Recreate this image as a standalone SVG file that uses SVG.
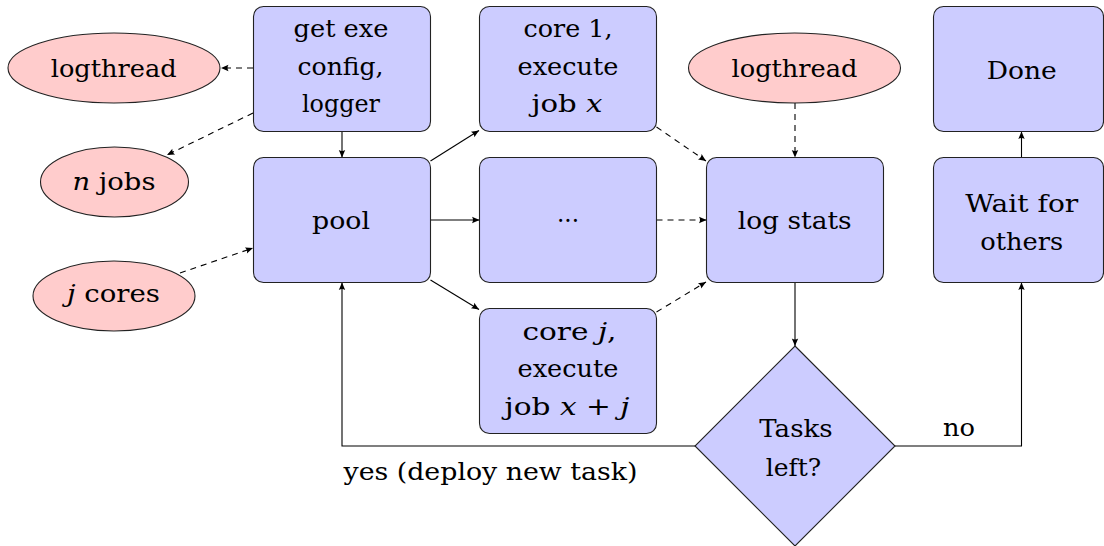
<svg xmlns="http://www.w3.org/2000/svg" width="1104" height="546" viewBox="0 0 1104 546">
<defs>
<marker id="ah" viewBox="-8 -4 9 8" refX="0" refY="0" markerWidth="9" markerHeight="8" markerUnits="userSpaceOnUse" orient="auto">
<path d="M0,0 L-7.5,-3.2 Q-5.5,0 -7.5,3.2 Z" fill="#000"/>
</marker>
</defs>
<style>
.box{fill:#ccccff;stroke:#222;stroke-width:1.1}
.ell{fill:#ffcccc;stroke:#222;stroke-width:1.1}
text{font-family:'DejaVu Serif','Liberation Serif',serif;font-size:25px;fill:#000;text-anchor:middle}
.i{font-style:italic}
.c{fill:none;stroke:#000;stroke-width:1.1;marker-end:url(#ah)}
.d{stroke-dasharray:6 5}
</style>
<g id="connectors">
<path class="c d" d="M253,68 L221,68"/>
<path class="c d" d="M253,113 L167,155"/>
<path class="c d" d="M180,273 L253,248"/>
<path class="c" d="M342,131.5 L342,157.5"/>
<path class="c" d="M430.5,161 L479,130.5"/>
<path class="c" d="M430.5,220 L479.5,220"/>
<path class="c" d="M430.5,280 L479,309.5"/>
<path class="c d" d="M656.5,127 L706,161"/>
<path class="c d" d="M656.5,220 L706.5,220"/>
<path class="c d" d="M656.5,312 L706,282"/>
<path class="c d" d="M795,103 L795,157.5"/>
<path class="c" d="M795,282.5 L795,346"/>
<path class="c" d="M695,446 H342 V282.5"/>
<path class="c" d="M895,446 H1021.5 V282.5"/>
<path class="c" d="M1021.5,157.5 V131.5"/>
<text x="490.5" y="480" textLength="294" lengthAdjust="spacingAndGlyphs">yes (deploy new task)</text>
<text x="959" y="436" textLength="32" lengthAdjust="spacingAndGlyphs">no</text>
</g>
<g id="logthread1">
<ellipse class="ell" cx="114" cy="68" rx="106" ry="35"/>
<text x="113.7" y="77" textLength="126" lengthAdjust="spacingAndGlyphs">logthread</text>
</g>
<g id="njobs">
<ellipse class="ell" cx="114.5" cy="182" rx="74" ry="35"/>
<text x="114" y="190" textLength="83" lengthAdjust="spacingAndGlyphs"><tspan class="i">n</tspan> jobs</text>
</g>
<g id="jcores">
<ellipse class="ell" cx="114" cy="296" rx="81" ry="35"/>
<text x="113.5" y="302" textLength="93" lengthAdjust="spacingAndGlyphs"><tspan class="i">j</tspan> cores</text>
</g>
<g id="getexe">
<rect class="box" x="253.5" y="6.5" width="177" height="125" rx="10"/>
<text x="341" y="37" textLength="95" lengthAdjust="spacingAndGlyphs">get exe</text>
<text x="340.5" y="75" textLength="86" lengthAdjust="spacingAndGlyphs">config,</text>
<text x="341" y="112" textLength="78" lengthAdjust="spacingAndGlyphs">logger</text>
</g>
<g id="pool">
<rect class="box" x="253.5" y="157.5" width="177" height="125" rx="10"/>
<text x="341" y="228.5" textLength="58" lengthAdjust="spacingAndGlyphs">pool</text>
</g>
<g id="core1">
<rect class="box" x="479.5" y="6.5" width="177" height="125" rx="10"/>
<text x="568" y="37" textLength="89" lengthAdjust="spacingAndGlyphs">core 1,</text>
<text x="568" y="75" textLength="101" lengthAdjust="spacingAndGlyphs">execute</text>
<text x="567" y="112" textLength="71" lengthAdjust="spacingAndGlyphs">job <tspan class="i">x</tspan></text>
</g>
<g id="dots">
<rect class="box" x="479.5" y="157.5" width="177" height="125" rx="10"/>
<text x="568" y="221.5" textLength="22" lengthAdjust="spacingAndGlyphs">...</text>
</g>
<g id="corej">
<rect class="box" x="479.5" y="308.5" width="177" height="125" rx="10"/>
<text x="569.5" y="340" textLength="94" lengthAdjust="spacingAndGlyphs">core <tspan class="i">j</tspan>,</text>
<text x="568" y="377" textLength="101" lengthAdjust="spacingAndGlyphs">execute</text>
<text x="567" y="415" textLength="125" lengthAdjust="spacingAndGlyphs">job <tspan class="i">x</tspan> + <tspan class="i">j</tspan></text>
</g>
<g id="logthread2">
<ellipse class="ell" cx="794.5" cy="68" rx="106" ry="35"/>
<text x="794.5" y="77" textLength="126" lengthAdjust="spacingAndGlyphs">logthread</text>
</g>
<g id="logstats">
<rect class="box" x="706.5" y="157.5" width="177" height="125" rx="10"/>
<text x="794.7" y="228.5" textLength="114" lengthAdjust="spacingAndGlyphs">log stats</text>
</g>
<g id="tasksleft">
<polygon class="box" points="795,346 895,446 795,546 695,446"/>
<text x="796" y="437" textLength="73.5" lengthAdjust="spacingAndGlyphs">Tasks</text>
<text x="793.5" y="476" textLength="55.5" lengthAdjust="spacingAndGlyphs">left?</text>
</g>
<g id="done">
<rect class="box" x="933.5" y="6.5" width="170" height="125" rx="10"/>
<text x="1021.7" y="79" textLength="70" lengthAdjust="spacingAndGlyphs">Done</text>
</g>
<g id="wait">
<rect class="box" x="933.5" y="157.5" width="170" height="125" rx="10"/>
<text x="1021.7" y="212" textLength="113" lengthAdjust="spacingAndGlyphs">Wait for</text>
<text x="1021.7" y="250" textLength="83" lengthAdjust="spacingAndGlyphs">others</text>
</g>
</svg>
